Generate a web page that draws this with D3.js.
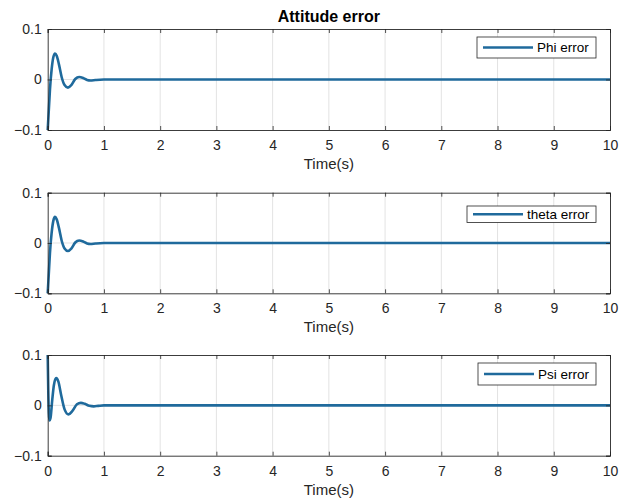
<!DOCTYPE html>
<html><head><meta charset="utf-8">
<script src="https://cdn.jsdelivr.net/npm/d3@7"></script>
<style>body{margin:0;background:#fff}svg{display:block;font-family:"Liberation Sans",Arial,sans-serif}</style>
</head><body><svg id="c" width="629" height="503"></svg>
<script>
const title = "Attitude error";
const xLabel = "Time(s)";
const xTicks = [0,1,2,3,4,5,6,7,8,9,10];
const yTicks = [-0.1, 0, 0.1];
const seriesNames = ["Phi error", "theta error", "Psi error"];

const phiT = [0,0.02,0.04,0.07,0.1,0.13,0.16,0.2,0.25,0.3,0.36,0.42,0.49,0.56,0.63,0.7,0.76,0.85,1.0,2,10];
const phiV = [-0.1,-0.06,-0.02,0.02,0.044,0.0515,0.047,0.03,0.004,-0.011,-0.016,-0.011,0.001,0.005,0.003,-0.001,-0.002,-0.001,0,0,0];
const thetaT = [0,0.02,0.04,0.07,0.1,0.13,0.16,0.2,0.25,0.3,0.36,0.42,0.49,0.56,0.63,0.7,0.76,0.85,1.0,2,10];
const thetaV = [-0.1,-0.06,-0.02,0.02,0.044,0.052,0.047,0.03,0.004,-0.011,-0.016,-0.011,0.001,0.005,0.003,-0.001,-0.002,-0.001,0,0,0];
const psiT = [0,0.01,0.03,0.05,0.08,0.11,0.15,0.19,0.24,0.3,0.37,0.44,0.52,0.59,0.66,0.74,0.82,0.9,1.0,2,10];
const psiV = [0.1,0.03,-0.03,-0.025,0.01,0.04,0.054,0.047,0.02,-0.008,-0.018,-0.011,0.002,0.005,0.003,-0.001,-0.002,-0.001,0,0,0];

const panels = [
  {T: phiT, V: phiV, top: 29, bottom: 130, leg: {x0:477,x1:596,y0:37,y1:58}},
  {T: thetaT, V: thetaV, top: 192.7, bottom: 293.3, leg: {x0:467,x1:596,y0:206,y1:222.5}},
  {T: psiT, V: psiV, top: 355, bottom: 455.7, leg: {x0:478,x1:596,y0:363,y1:385}}
];
const left = 47.7, right = 610;
const lineColor = "#1f6a9c";
const axisColor = "#262626";
const svg = d3.select("#c");

svg.append("text").attr("x", (left+right)/2).attr("y", 22).attr("text-anchor","middle")
  .attr("font-size", 16).attr("font-weight","bold").attr("fill","#000").text(title);

panels.forEach((p, i) => {
  const x = d3.scaleLinear().domain([0,10]).range([left, right]);
  const y = d3.scaleLinear().domain([-0.1,0.1]).range([p.bottom, p.top]);
  const g = svg.append("g");
  g.selectAll(".gx").data(xTicks.slice(1,-1)).join("line")
    .attr("x1", d=>x(d)).attr("x2", d=>x(d)).attr("y1", p.top).attr("y2", p.bottom)
    .attr("stroke","#e3e3e3").attr("stroke-width",1);
  g.append("line").attr("x1", left).attr("x2", right).attr("y1", y(0)).attr("y2", y(0))
    .attr("stroke","#e3e3e3").attr("stroke-width",1);
  const pts = p.T.map((t,k)=>[t,p.V[k]]);
  g.append("path").datum(pts)
    .attr("d", d3.line().x(d=>x(d[0])).y(d=>y(d[1])).curve(d3.curveMonotoneX))
    .attr("fill","none").attr("stroke", lineColor).attr("stroke-width", 2.6).attr("stroke-linejoin","round");
  const axB = g.append("g").attr("transform", `translate(0,${p.bottom})`)
    .call(d3.axisBottom(x).tickValues(xTicks).tickSize(-4).tickPadding(10).tickFormat(d3.format("d")));
  const axT = g.append("g").attr("transform", `translate(0,${p.top})`)
    .call(d3.axisTop(x).tickValues(xTicks).tickSize(-4).tickFormat(""));
  const axL = g.append("g").attr("transform", `translate(${left},0)`)
    .call(d3.axisLeft(y).tickValues(yTicks).tickSize(-4).tickPadding(6).tickFormat(d => d===0 ? "0" : d3.format(".1f")(d)));
  const axR = g.append("g").attr("transform", `translate(${right},0)`)
    .call(d3.axisRight(y).tickValues(yTicks).tickSize(-4).tickFormat(""));
  [axB, axT, axL, axR].forEach(a => {
    a.select(".domain").attr("stroke", axisColor).attr("stroke-width", 0.9);
    a.selectAll(".tick line").attr("stroke", axisColor).attr("stroke-width", 0.8);
    a.selectAll(".tick text").attr("fill", "#262626").attr("font-size", 14)
      .attr("font-family", '"Liberation Sans",Arial,sans-serif');
  });
  g.append("text").attr("x", (left+right)/2).attr("y", p.bottom + 39).attr("text-anchor","middle")
    .attr("font-size", 15).attr("fill","#262626").text(xLabel);
  const L = p.leg;
  g.append("rect").attr("x", L.x0).attr("y", L.y0).attr("width", L.x1-L.x0).attr("height", L.y1-L.y0)
    .attr("fill","#fff").attr("stroke", axisColor).attr("stroke-width", 0.8);
  const ly = (L.y0+L.y1)/2;
  g.append("line").attr("x1", L.x0+6).attr("x2", L.x0+56).attr("y1", ly).attr("y2", ly)
    .attr("stroke", lineColor).attr("stroke-width", 2.6);
  g.append("text").attr("x", L.x0+60).attr("y", ly).attr("dy","0.35em")
    .attr("font-size", 13.5).attr("fill","#000").text(seriesNames[i]);
});
</script></body></html>
